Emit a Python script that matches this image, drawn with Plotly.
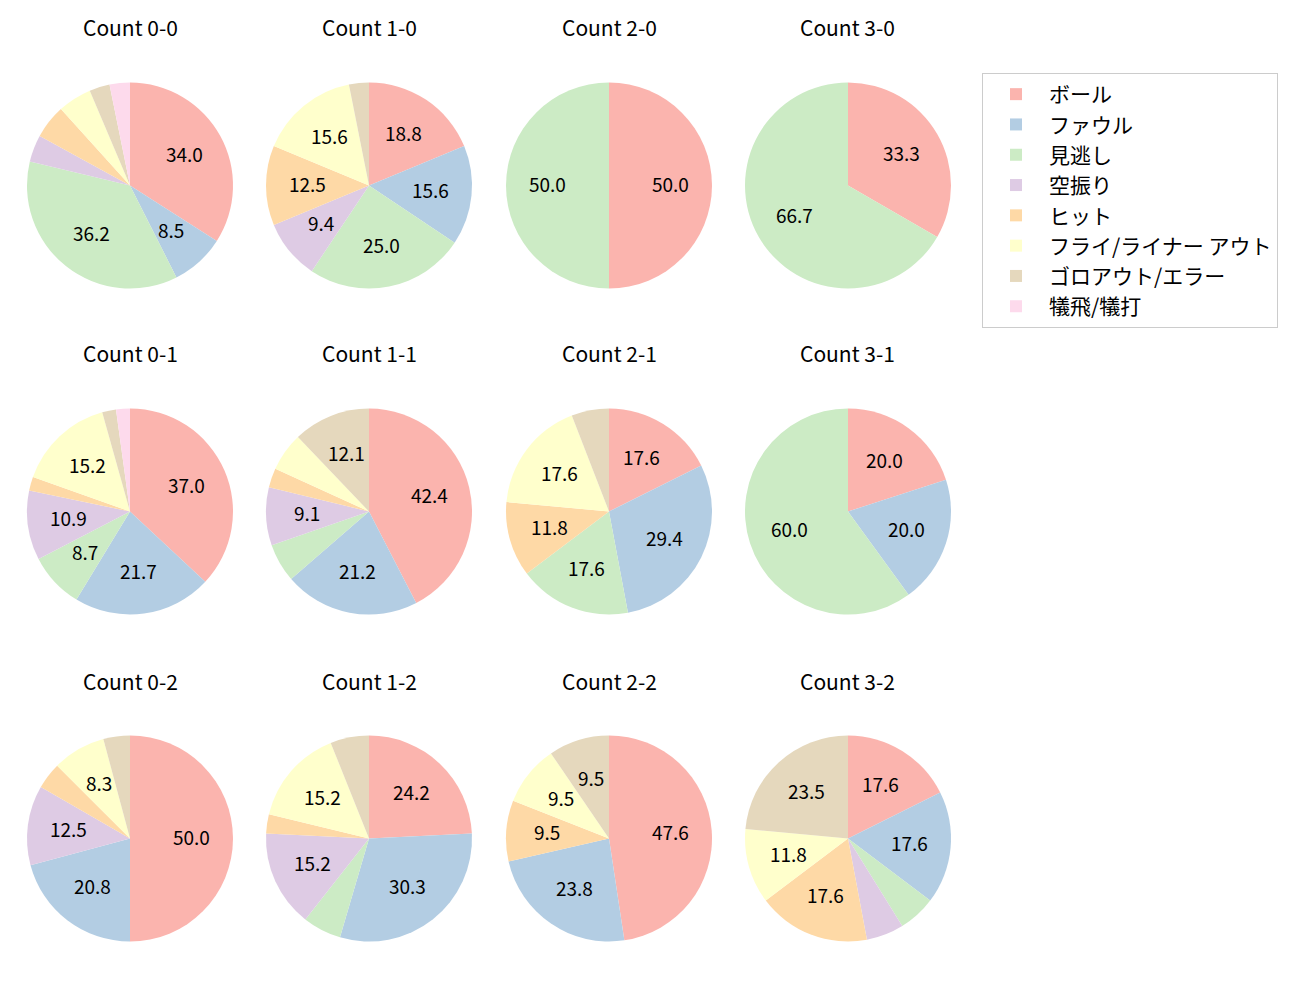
import math
import plotly.graph_objects as go

labels = ["ボール", "ファウル", "見逃し", "空振り", "ヒット",
          "フライ/ライナー アウト", "ゴロアウト/エラー", "犠飛/犠打"]
colors = ["#fbb4ae", "#b3cde3", "#ccebc5", "#decbe4", "#fed9a6",
          "#ffffcc", "#e5d8bd", "#fddaec"]

titles = ["Count 0-0", "Count 1-0", "Count 2-0", "Count 3-0",
          "Count 0-1", "Count 1-1", "Count 2-1", "Count 3-1",
          "Count 0-2", "Count 1-2", "Count 2-2", "Count 3-2"]

# counts per category, in label order
c00 = [32, 8, 34, 4, 5, 5, 3, 3]
c10 = [6, 5, 8, 3, 4, 5, 1, 0]
c20 = [1, 0, 1, 0, 0, 0, 0, 0]
c30 = [1, 0, 2, 0, 0, 0, 0, 0]
c01 = [17, 10, 4, 5, 1, 7, 1, 1]
c11 = [14, 7, 2, 3, 1, 2, 4, 0]
c21 = [3, 5, 3, 0, 2, 3, 1, 0]
c31 = [1, 1, 3, 0, 0, 0, 0, 0]
c02 = [12, 5, 0, 3, 1, 2, 1, 0]
c12 = [8, 10, 2, 5, 1, 5, 2, 0]
c22 = [10, 5, 0, 0, 2, 2, 2, 0]
c32 = [3, 3, 1, 1, 3, 2, 4, 0]

data = [c00, c10, c20, c30, c01, c11, c21, c31, c02, c12, c22, c32]

W, H = 1300, 1000
col_cx = [130, 369, 609, 848]
row_cy = [185.5, 511.5, 838.5]
R = 103
FONT = "Noto Sans CJK JP, DejaVu Sans, sans-serif"

fig = go.Figure()
annotations = []
for i, (vals, title) in enumerate(zip(data, titles)):
    r, c = divmod(i, 4)
    cx, cy = col_cx[c], row_cy[r]
    fig.add_trace(go.Pie(
        labels=labels, values=vals, sort=False, direction="clockwise",
        rotation=0, marker=dict(colors=colors, line=dict(width=0)),
        textinfo="none", hoverinfo="label+percent",
        domain=dict(x=[(cx - R) / W, (cx + R) / W],
                    y=[1 - (cy + R) / H, 1 - (cy - R) / H]),
        showlegend=True,
    ))
    annotations.append(dict(
        x=cx / W, y=1 - (cy - 158) / H, xref="paper", yref="paper",
        text=title, showarrow=False, xanchor="center", yanchor="middle",
        font=dict(size=21, color="black", family=FONT)))
    total = sum(vals)
    cum = 0
    for v in vals:
        if v == 0:
            continue
        pct = 100 * v / total
        mid = math.radians(90 - 360 * (cum + v / 2) / total)
        cum += v
        if pct < 7.5:
            continue
        px = cx + 0.6 * R * math.cos(mid)
        py = cy - 0.6 * R * math.sin(mid) - 2
        annotations.append(dict(
            x=px / W, y=1 - py / H, xref="paper", yref="paper",
            text=f"{pct:.1f}", showarrow=False, xanchor="center",
            yanchor="middle", font=dict(size=19, color="black", family=FONT)))

fig.update_layout(
    width=W, height=H, margin=dict(l=0, r=0, t=0, b=0),
    paper_bgcolor="white", plot_bgcolor="white",
    annotations=annotations,
    legend=dict(x=982 / W, y=1 - 73 / H, xanchor="left", yanchor="top",
                bordercolor="#cccccc", borderwidth=1, bgcolor="white",
                font=dict(size=21, color="black", family=FONT),
                itemwidth=56, traceorder="normal"),
)

fig.write_html("out.html", config={"displayModeBar": False},
               post_script="document.body.style.margin='0';document.body.style.padding='0';")
